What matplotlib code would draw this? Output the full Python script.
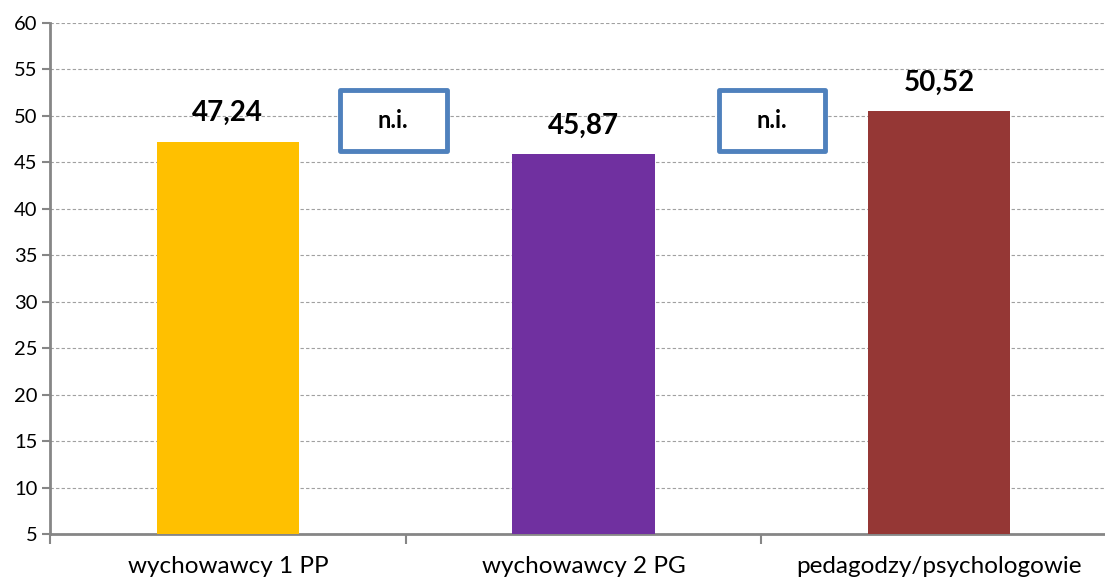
import numpy as np
import matplotlib
matplotlib.use("Agg")
import matplotlib.pyplot as plt
from matplotlib.patches import Rectangle

plt.rcParams['font.family'] = ['Lato', 'DejaVu Sans']

# Data
categories = ['wychowawcy 1 PP', 'wychowawcy 2 PG', 'pedagodzy/psychologowie']
values = [47.24, 45.87, 50.52]
value_labels = ['47,24', '45,87', '50,52']
colors = ['#FFC000', '#7030A0', '#953735']
box_text = ['n.i.', 'n.i.']

fig = plt.figure(figsize=(11.05, 5.85), dpi=100)
ax = fig.add_axes([50 / 1105, 51 / 585, 1067 / 1105, 511 / 585])

x = np.arange(len(categories))
ax.bar(x, values, width=0.40, color=colors, zorder=3)

# value labels above bars
for xi, v, lab in zip(x, values, value_labels):
    ax.annotate(lab, (xi, v), xytext=(0, 11), textcoords='offset points',
                ha='center', va='bottom', fontsize=20, fontweight='bold', zorder=5)

# "n.i." boxes between bars
for i, t in enumerate(box_text):
    cx = i + 0.5 + (-0.035 if i == 0 else 0.03)
    cy = 49.5
    w, h = 0.30, 6.5
    ax.add_patch(Rectangle((cx - w / 2, cy - h / 2), w, h, facecolor='white',
                           edgecolor='#4F81BD', linewidth=3.5, zorder=4,
                           joinstyle='round'))
    ax.text(cx, cy, t, ha='center', va='center', fontsize=17,
            fontweight='bold', zorder=5)

ax.set_xlim(-0.5, 2.5)
ax.set_ylim(5, 60)
ax.set_yticks(np.arange(5, 61, 5))
ax.set_xticks(x)
ax.set_xticklabels(categories, fontsize=17.5)
ax.set_xticks(np.arange(-0.5, 3.0, 1.0), minor=True)
ax.tick_params(axis='x', which='major', length=0, pad=16)
ax.tick_params(axis='x', which='minor', length=7, width=1.5, color='#868686')
ax.tick_params(axis='y', length=6, width=1.5, color='#868686', labelsize=14.5, pad=3)

ax.yaxis.grid(True, linestyle=(0, (3, 2)), color='#a0a0a0', linewidth=0.8, zorder=0)
for s in ['top', 'right']:
    ax.spines[s].set_visible(False)
for s in ['left', 'bottom']:
    ax.spines[s].set_color('#868686')
    ax.spines[s].set_linewidth(2)

fig.savefig('out.png', dpi=100)
